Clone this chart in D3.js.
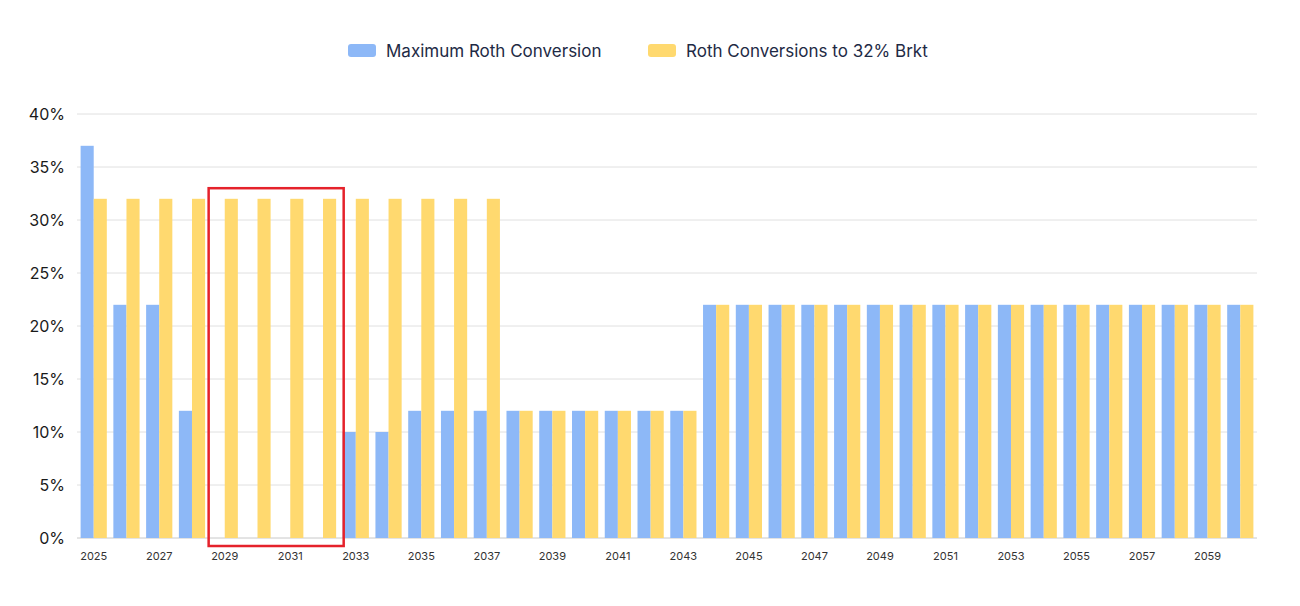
<!DOCTYPE html>
<html>
<head>
<meta charset="utf-8">
<script src="https://cdn.jsdelivr.net/npm/d3@7"></script>
<style>
  body { margin: 0; background: #fff; }
  svg { font-family: Inter, "Noto Sans", sans-serif; display: block; }
</style>
</head>
<body>
<svg id="chart" width="1300" height="606"></svg>
<script>
const years = d3.range(2025, 2061).map(String);
const seriesNames = ['Maximum Roth Conversion', 'Roth Conversions to 32% Brkt'];
const maxRoth = [37, 22, 22, 12, 0, 0, 0, 0, 10, 10, 12, 12, 12,
  12, 12, 12, 12, 12, 12,
  22, 22, 22, 22, 22, 22, 22, 22, 22, 22, 22, 22, 22, 22, 22, 22, 22];
const roth32 = [32, 32, 32, 32, 32, 32, 32, 32, 32, 32, 32, 32, 32,
  12, 12, 12, 12, 12, 12,
  22, 22, 22, 22, 22, 22, 22, 22, 22, 22, 22, 22, 22, 22, 22, 22, 22];
const yTicks = [0, 5, 10, 15, 20, 25, 30, 35, 40];
const highlightYears = ['2029', '2032'];
const highlightTop = 33;

const colors = ['#8db8f7', '#ffd96f'];
const svg = d3.select('#chart');
const margin = { top: 114, right: 43, bottom: 68, left: 77 };
const width = 1300 - margin.left - margin.right;
const height = 606 - margin.top - margin.bottom;

const g = svg.append('g')
  .attr('transform', 'translate(' + margin.left + ',' + margin.top + ')');

const x = d3.scaleBand().domain(years).range([0, width])
  .paddingInner(0.2).paddingOuter(0.11);
const x1 = d3.scaleBand().domain([0, 1]).range([0, x.bandwidth()]);
const y = d3.scaleLinear().domain([0, 40]).range([height, 0]);

// grid
g.append('g').selectAll('line')
  .data(yTicks)
  .enter().append('line')
  .attr('x1', 0).attr('x2', width)
  .attr('y1', d => y(d)).attr('y2', d => y(d))
  .attr('stroke', d => d === 0 ? '#c8c8c8' : '#e0e0e0')
  .attr('stroke-width', 1);

// y labels
g.append('g').selectAll('text')
  .data(yTicks)
  .enter().append('text')
  .attr('x', -12)
  .attr('y', d => y(d))
  .attr('dy', '0.35em')
  .attr('text-anchor', 'end')
  .attr('font-size', 16)
  .attr('fill', '#1a1a1a')
  .text(d => d + '%');

// bars
const rows = years.map((yr, i) => ({ year: yr, vals: [maxRoth[i], roth32[i]] }));
const grp = g.selectAll('.grp')
  .data(rows)
  .enter().append('g')
  .attr('class', 'grp')
  .attr('transform', d => 'translate(' + x(d.year) + ',0)');
grp.selectAll('rect')
  .data(d => d.vals)
  .enter().append('rect')
  .attr('x', (d, i) => x1(i))
  .attr('width', x1.bandwidth())
  .attr('y', d => y(d))
  .attr('height', d => height - y(d))
  .attr('fill', (d, i) => colors[i]);

// x labels (every other year)
g.append('g').selectAll('text')
  .data(years.filter((d, i) => i % 2 === 0))
  .enter().append('text')
  .attr('x', d => x(d) + x.bandwidth() / 2)
  .attr('y', height + 22)
  .attr('text-anchor', 'middle')
  .attr('font-size', 11)
  .attr('fill', '#333')
  .text(d => d);

// highlight box
const hx0 = x(highlightYears[0]) - 3;
const hx1 = x(highlightYears[1]) + x.step() + 1;
g.append('rect')
  .attr('x', hx0)
  .attr('y', y(highlightTop))
  .attr('width', hx1 - hx0)
  .attr('height', height + 8 - y(highlightTop))
  .attr('fill', 'none')
  .attr('stroke', '#e5222b')
  .attr('stroke-width', 2.5);

// legend
const legendX = [348, 648];
const lg = svg.append('g').selectAll('g')
  .data(seriesNames)
  .enter().append('g')
  .attr('transform', (d, i) => 'translate(' + legendX[i] + ',44)');
lg.append('rect')
  .attr('width', 28).attr('height', 13).attr('rx', 3)
  .attr('fill', (d, i) => colors[i]);
lg.append('text')
  .attr('x', 38).attr('y', 7)
  .attr('dy', '0.35em')
  .attr('font-size', 17)
  .attr('fill', '#1e2a45')
  .text(d => d);
</script>
</body>
</html>
